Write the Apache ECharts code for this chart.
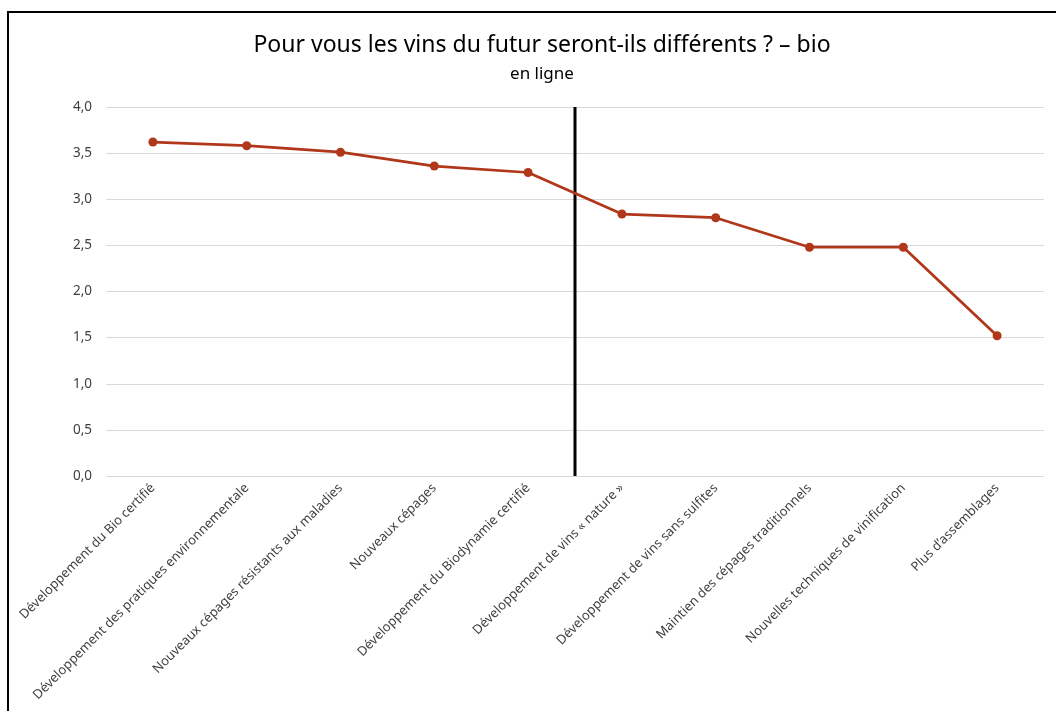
<!DOCTYPE html>
<html>
<head>
<meta charset="utf-8">
<script src="https://cdn.jsdelivr.net/npm/echarts@6/dist/echarts.min.js"></script>
<style>
html,body{margin:0;padding:0;background:#fff;}
#chart{width:1056px;height:711px;}
</style>
</head>
<body>
<div id="chart"></div>
<script>
const titleText = 'Pour vous les vins du futur seront-ils différents ? – bio';
const subtitleText = 'en ligne';
const categories = [
  'Développement du Bio certifié',
  'Développement des pratiques environnementale',
  'Nouveaux cépages résistants aux maladies',
  'Nouveaux cépages',
  'Développement du Biodynamie certifié',
  'Développement de vins « nature »',
  'Développement de vins sans sulfites',
  'Maintien des cépages traditionnels',
  'Nouvelles techniques de vinification',
  'Plus d\u2019assemblages'
];
const values = [3.62, 3.58, 3.51, 3.36, 3.29, 2.84, 2.80, 2.48, 2.48, 1.52];
const separatorPosition = 4.5;   // between 5th and 6th category
const separatorRange = [0, 4];

const chart = echarts.init(document.getElementById('chart'), null, {renderer: 'canvas'});
const font = 'Noto Sans';
chart.setOption({
  backgroundColor: '#fff',
  animation: false,
  graphic: [{
    type: 'rect',
    shape: {x: 8, y: 12, width: 1200, height: 900},
    style: {fill: 'none', stroke: '#000', lineWidth: 2},
    silent: true, z: 100
  }],
  title: {
    text: titleText,
    subtext: subtitleText,
    left: 537,
    textAlign: 'center',
    top: 29,
    itemGap: 9,
    textStyle: {fontFamily: font, fontSize: 23, fontWeight: 'normal', color: '#000'},
    subtextStyle: {fontFamily: font, fontSize: 17, color: '#000'}
  },
  grid: {left: 106, right: 12, top: 107, bottom: 235, containLabel: false},
  xAxis: [{
    type: 'category',
    data: categories,
    boundaryGap: true,
    axisLine: {show: false},
    axisTick: {show: false},
    axisLabel: {rotate: 45, interval: 0, fontFamily: font, fontSize: 13, color: '#404040', margin: 10}
  }, {
    type: 'value',
    min: -0.5, max: 9.5,
    show: false
  }],
  yAxis: {
    type: 'value',
    min: 0, max: 4, interval: 0.5,
    axisLine: {show: false},
    axisTick: {show: false},
    splitLine: {lineStyle: {color: '#d9d9d9', width: 1}},
    axisLabel: {fontFamily: font, fontSize: 13.5, color: '#404040', margin: 14,
      formatter: v => v.toFixed(1).replace('.', ',')}
  },
  series: [{
    type: 'line',
    data: values,
    xAxisIndex: 0,
    symbol: 'circle',
    symbolSize: 9,
    lineStyle: {color: '#B0371A', width: 2.75},
    itemStyle: {color: '#B0371A'},
    z: 3
  }, {
    type: 'line',
    xAxisIndex: 1,
    data: [[separatorPosition, separatorRange[0]], [separatorPosition, separatorRange[1]]],
    symbol: 'none',
    lineStyle: {color: '#000', width: 3},
    z: 2
  }]
});
</script>
</body>
</html>
